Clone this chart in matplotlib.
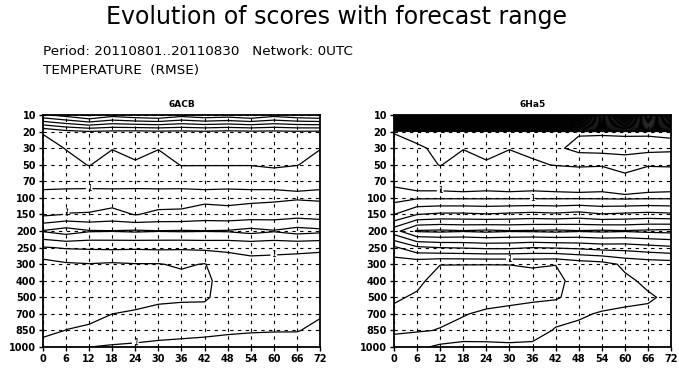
import numpy as np
import matplotlib.pyplot as plt

# forecast ranges (h) and pressure levels (hPa)
ranges = [0, 6, 12, 18, 24, 30, 36, 42, 48, 54, 60, 66, 72]
levels_hpa = [10, 20, 30, 50, 70, 100, 150, 200, 250, 300, 400, 500, 700, 850, 1000]

# temperature RMSE (K), one row per pressure level, one column per range
rmse_6acb = [
    [2.45, 2.6, 2.8, 2.6, 2.7, 2.75, 2.6, 2.7, 2.65, 2.75, 2.6, 2.7, 2.75],
    [1.27, 1.42, 1.48, 1.45, 1.44, 1.46, 1.45, 1.47, 1.44, 1.46, 1.45, 1.47, 1.46],
    [1.15, 1.26, 1.32, 1.26, 1.30, 1.26, 1.32, 1.33, 1.33, 1.33, 1.35, 1.33, 1.26],
    [1.08, 1.17, 1.26, 1.15, 1.23, 1.15, 1.26, 1.26, 1.26, 1.26, 1.30, 1.26, 1.15],
    [1.10, 1.10, 1.10, 1.10, 1.10, 1.10, 1.08, 1.06, 1.06, 1.05, 1.04, 1.03, 1.03],
    [0.90, 0.88, 0.87, 0.88, 0.87, 0.88, 0.90, 0.94, 0.93, 0.95, 0.96, 0.98, 0.97],
    [0.95, 1.01, 1.02, 1.08, 0.99, 1.05, 1.05, 1.10, 1.08, 1.10, 1.12, 1.15, 1.12],
    [1.52, 1.62, 1.52, 1.51, 1.53, 1.51, 1.52, 1.51, 1.52, 1.58, 1.52, 1.60, 1.56],
    [0.98, 1.02, 1.03, 1.04, 1.03, 1.04, 1.03, 1.05, 1.04, 1.05, 1.04, 1.03, 1.02],
    [0.65, 0.72, 0.74, 0.72, 0.74, 0.74, 0.78, 0.74, 0.90, 0.95, 0.95, 0.95, 0.95],
    [0.65, 0.62, 0.60, 0.62, 0.63, 0.65, 0.68, 0.70, 0.85, 0.88, 0.90, 0.90, 0.90],
    [0.60, 0.62, 0.64, 0.65, 0.66, 0.70, 0.72, 0.72, 0.85, 0.88, 0.90, 0.92, 0.93],
    [0.62, 0.66, 0.70, 0.75, 0.78, 0.82, 0.82, 0.83, 0.88, 0.90, 0.92, 0.95, 0.96],
    [0.68, 0.755, 0.78, 0.82, 0.85, 0.88, 0.90, 0.92, 0.95, 0.97, 0.98, 0.98, 1.10],
    [0.85, 0.92, 1.00, 1.03, 1.05, 1.08, 1.10, 1.12, 1.15, 1.18, 1.20, 1.22, 1.24],
]

rmse_6ha5 = [
    [9.0, 9.5, 9.2, 9.0, 9.4, 9.0, 9.3, 8.8, 7.5, 5.5, 7.0, 5.2, 6.5],
    [1.26, 1.38, 1.42, 1.40, 1.42, 1.40, 1.42, 1.45, 1.47, 1.47, 1.46, 1.47, 1.46],
    [1.18, 1.20, 1.32, 1.26, 1.30, 1.26, 1.30, 1.45, 1.58, 1.60, 1.60, 1.58, 1.56],
    [1.08, 1.15, 1.26, 1.15, 1.23, 1.15, 1.22, 1.26, 1.28, 1.27, 1.35, 1.27, 1.28],
    [1.05, 1.04, 1.04, 1.05, 1.04, 1.05, 1.04, 1.05, 1.06, 1.05, 1.15, 1.06, 1.05],
    [0.90, 0.97, 0.97, 0.97, 0.97, 0.97, 0.97, 0.97, 0.97, 0.97, 0.96, 0.97, 0.97],
    [1.25, 1.50, 1.55, 1.55, 1.52, 1.55, 1.58, 1.55, 1.60, 1.52, 1.55, 1.58, 1.55],
    [1.90, 2.28, 2.30, 2.27, 2.30, 2.27, 2.28, 2.30, 2.27, 2.29, 2.27, 2.30, 2.32],
    [1.20, 1.45, 1.50, 1.52, 1.55, 1.55, 1.50, 1.52, 1.55, 1.60, 1.60, 1.65, 1.70],
    [0.85, 0.82, 0.755, 0.755, 0.755, 0.755, 0.78, 0.755, 0.85, 0.90, 1.05, 1.10, 1.12],
    [0.82, 0.80, 0.66, 0.64, 0.62, 0.64, 0.65, 0.68, 0.85, 0.88, 0.95, 1.05, 1.10],
    [0.78, 0.72, 0.66, 0.67, 0.68, 0.70, 0.72, 0.72, 0.85, 0.90, 0.93, 0.97, 1.05],
    [0.70, 0.68, 0.70, 0.74, 0.78, 0.80, 0.82, 0.92, 0.97, 1.02, 1.05, 1.05, 1.08],
    [0.72, 0.73, 0.76, 0.80, 0.83, 0.86, 0.90, 1.02, 1.05, 1.06, 1.06, 1.05, 1.06],
    [0.85, 0.95, 1.05, 1.10, 1.08, 1.05, 1.05, 1.10, 1.12, 1.15, 1.20, 1.18, 1.20],
]

panels = [("6ACB", rmse_6acb), ("6Ha5", rmse_6ha5)]

plt.rcParams['font.family'] = ['DejaVu Sans']

fig = plt.figure(figsize=(6.79, 3.70), dpi=100)
fig.text(0.496, 0.953, "Evolution of scores with forecast range", ha='center', va='center', fontsize=17)
fig.text(0.064, 0.862, "Period: 20110801..20110830   Network: 0UTC", ha='left', va='center', fontsize=9.7)
fig.text(0.064, 0.81, "TEMPERATURE  (RMSE)", ha='left', va='center', fontsize=9.7)

cont_levels = np.arange(0.75, 12.01, 0.25)
ypos = np.arange(len(levels_hpa))

for i, (name, field) in enumerate(panels):
    left = [0.0633, 0.5803][i]
    ax = fig.add_axes([left, 0.062, 0.408, 0.627])
    z = np.array(field)
    cs = ax.contour(ranges, ypos, z, levels=cont_levels, colors='black', linewidths=0.9)
    ax.clabel(cs, levels=[1.0], fmt='%g', fontsize=5.5, inline=True, inline_spacing=1)

    ax.set_xlim(0, 72)
    ax.set_ylim(len(levels_hpa) - 1, 0)
    ax.set_xticks(ranges)
    ax.set_xticklabels([str(r) for r in ranges])
    ax.set_yticks(ypos)
    ax.set_yticklabels([str(p) for p in levels_hpa])
    ax.tick_params(axis='both', labelsize=7, length=3, width=1, direction='out', pad=2)
    for lab in ax.get_xticklabels() + ax.get_yticklabels():
        lab.set_fontweight('bold')
    ax.grid(True, color='black', linestyle=(0, (3, 4)), linewidth=0.8)
    for sp in ax.spines.values():
        sp.set_linewidth(1.3)
    ax.set_title(name, fontsize=6.5, fontweight='bold', pad=6)

plt.savefig('out.png', dpi=100)
